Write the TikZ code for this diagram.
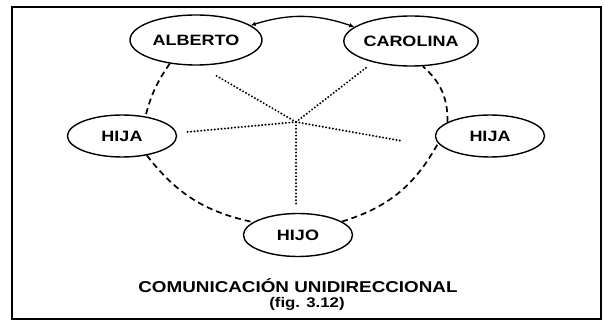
\documentclass[tikz,border=0pt]{standalone}
\usepackage{fontspec}
\newfontfamily\lab[FakeStretch=1.2]{Liberation Sans}
\usetikzlibrary{shapes.geometric,arrows.meta}
\begin{document}
\begin{tikzpicture}[x=1pt,y=1pt,
  person/.style={draw,ellipse,line width=1.4pt,inner sep=0pt,
    minimum width=109pt,minimum height=42pt,
    font=\lab\bfseries\fontsize{15}{15}\selectfont},
  bigperson/.style={person,minimum width=132pt,minimum height=50pt},
  link/.style={line width=1.7pt,dash pattern=on 6pt off 4pt},
  ray/.style={line width=2.2pt,dash pattern=on 0pt off 3.4pt,line cap=round},
  duo/.style={line width=1.3pt,{Latex[length=5pt,width=4.5pt]}-{Latex[length=5pt,width=4.5pt]}},
  caption/.style={font=\lab\bfseries\fontsize{15.7}{16}\selectfont,inner sep=0pt,anchor=base},
  subcaption/.style={font=\lab\bfseries\fontsize{14}{15}\selectfont,inner sep=0pt,anchor=base}]
\useasboundingbox (0,0) rectangle (604,321);
\draw[line width=2pt] (12,2) rectangle (601,314);

\node[bigperson] (al) at (196,281) {ALBERTO};
\node[bigperson] (ca) at (411,280) {CAROLINA};
\node[person] (hl) at (122,185) {HIJA};
\node[person] (hr) at (490,185) {HIJA};
\node[person,minimum height=43pt] (ho) at (298,86) {HIJO};

\draw[duo] (al.15) to[bend left=18] (ca.166);

\draw[link] (al.-138) to[bend right=10] (hl.40);
\draw[link] (hl.-38) to[bend right=20] (ho.164);
\draw[link] (ho.17) to[bend right=22] (hr.-172);
\draw[link] (hr.162) to[bend right=25] (ca.-65);

\coordinate (c) at (296,199);
\coordinate (rul) at (215,246);
\coordinate (rur) at (367,254);
\coordinate (rl) at (187,189);
\coordinate (rr) at (402,180);
\coordinate (rd) at (296,116);
\draw[ray] (c) -- (rul);
\draw[ray] (c) -- (rur);
\draw[ray] (c) -- (rl);
\draw[ray] (c) -- (rr);
\draw[ray] (c) -- (rd);

\node[caption] (t1) at (298,29) {COMUNICACIÓN UNIDIRECCIONAL};
\node[subcaption] (t2) at (307,14) {(fig. 3.12)};
\end{tikzpicture}
\end{document}
